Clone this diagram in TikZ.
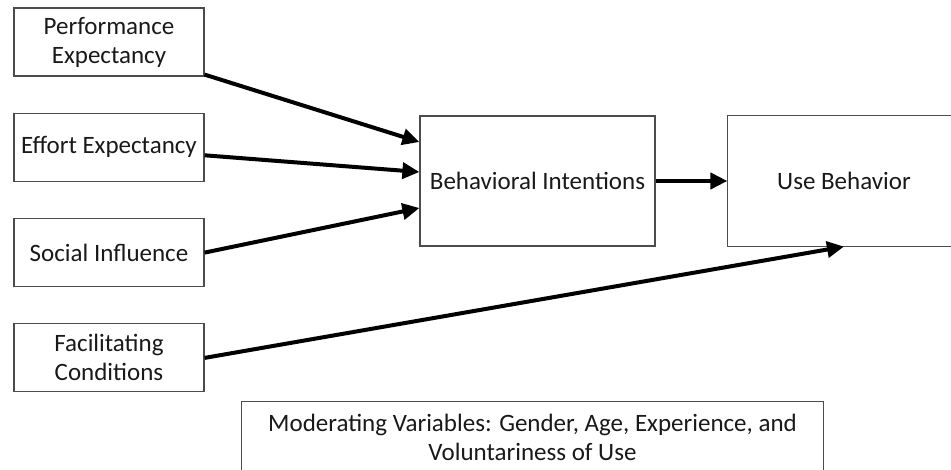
\documentclass[tikz,border=0pt]{standalone}
\usepackage{fontspec}
\setmainfont{Carlito}
\usetikzlibrary{arrows.meta, positioning}

\begin{document}
\begin{tikzpicture}[x=1pt, y=-1pt, node distance=105.3pt, on grid,
   rim/.style={draw=black!70, line width=1.2pt},
   box/.style={rim, align=center, inner sep=2pt,
               text=black!90, font=\fontsize{25}{29}\selectfont},
   factor/.style={box, minimum width=190pt, minimum height=68pt},
   arr/.style={-{Triangle[length=17pt, width=16pt]}, line width=4pt}]
   \useasboundingbox (0,0) rectangle (951,470);

   % 左侧四个因素
   \node[factor] (perf) at (109,42) {Performance\\Expectancy};
   \node[factor] (effort) [below=of perf] {Effort Expectancy};
   \node[factor] (social) [below=of effort] {Social Influence};
   \node[factor] (facil) [below=of social] {Facilitating\\Conditions};

   % 意向与行为
   \node[box, minimum width=235pt, minimum height=130pt] (bi) at (537.5,181) {Behavioral Intentions};
   \node[box, draw=none, minimum width=232pt, minimum height=130pt] (ub) [right=306.5pt of bi] {Use Behavior};
   \draw[rim] (ub.south west) rectangle ([xshift=40pt]ub.north east);

   % 调节变量
   \node[box, draw=none, minimum width=581pt, minimum height=70pt] (mod) at (532.5,437)
      {Moderating Variables: Gender, Age, Experience, and\\Voluntariness of Use};
   \draw[rim] (mod.north west) rectangle ([yshift=-30pt]mod.south east);

   % 箭头
   \path[arr]
   ([yshift=2pt]perf.south east) edge ([yshift=39pt]bi.west)
   ([yshift=-8pt]effort.east) edge ([yshift=9pt]bi.west)
   (social.east) edge ([yshift=-27pt]bi.west)
   (facil.east) edge (ub.south)
   (bi.east) edge (ub.west);
\end{tikzpicture}
\end{document}
